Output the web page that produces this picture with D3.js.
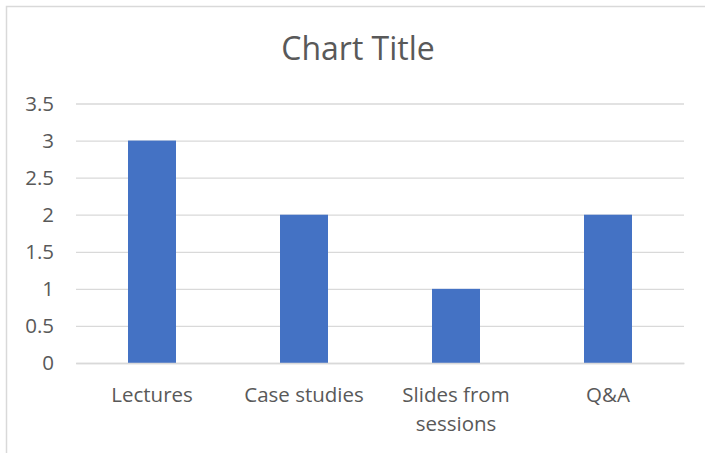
<!DOCTYPE html>
<html><head><meta charset="utf-8">
<script src="https://cdn.jsdelivr.net/npm/d3@7"></script>
<style>
html,body{margin:0;padding:0;background:#fff;}
svg{display:block;}
text{font-family:"Open Sans",sans-serif;fill:#595959;}
</style></head>
<body><svg id="c" width="705" height="453"></svg>
<script>
const categories = ["Lectures", "Case studies", "Slides from sessions", "Q&A"];
const values = [3, 2, 1, 2];
const yTicks = [0, 0.5, 1, 1.5, 2, 2.5, 3, 3.5];
const title = "Chart Title";

const svg = d3.select("#c");
const W = 705, H = 453;
const m = {left: 76, right: 21, top: 103.5, bottom: 90};

// chart border (cropped at right/bottom)
svg.append("path").attr("d", `M6.5,${H+2}V6.5H${W+2}`)
  .attr("fill","none").attr("stroke","#d9d9d9").attr("stroke-width",1.5);

const x = d3.scaleBand().domain(categories).range([m.left, W - m.right]).paddingInner(0).paddingOuter(0);
const y = d3.scaleLinear().domain([0, 3.5]).range([H - m.bottom, m.top]);

// gridlines
const yAxis = d3.axisLeft(y).tickValues(yTicks).tickSize(-(W - m.right - m.left)).tickPadding(22).tickFormat(d3.format("~g"));
const gy = svg.append("g").attr("transform", `translate(${m.left},0)`).call(yAxis);
gy.select(".domain").remove();
gy.selectAll(".tick line").attr("stroke","#d9d9d9").attr("stroke-width",1.3);
gy.selectAll(".tick text").attr("font-size",20.5).attr("fill","#595959").attr("dy","0.33em");

// bars
const bw = 48;
svg.append("g").selectAll("rect").data(values).join("rect")
  .attr("x",(d,i)=> x(categories[i]) + x.bandwidth()/2 - bw/2)
  .attr("width", bw)
  .attr("y", d => y(d))
  .attr("height", d => y(0) - y(d))
  .attr("fill","#4472C4");

// x axis
const xAxis = d3.axisBottom(x).tickSize(0).tickPadding(0);
const gx = svg.append("g").attr("transform", `translate(0,${y(0)})`).call(xAxis);
gx.select(".domain").attr("stroke","#d9d9d9").attr("stroke-width",1.3);
gx.selectAll(".tick text").attr("font-size",20.5).attr("fill","#595959").attr("y",38.5).attr("dy",0)
  .each(function(){
    const t = d3.select(this);
    const words = t.text().split(/\s+/);
    t.text(null);
    let line = [];
    let tspan = t.append("tspan").attr("x",0).attr("dy",0);
    for (const w of words){
      line.push(w);
      tspan.text(line.join(" "));
      if (tspan.node().getComputedTextLength() > 140 && line.length > 1){
        line.pop(); tspan.text(line.join(" "));
        line = [w];
        tspan = t.append("tspan").attr("x",0).attr("dy",29.5).text(w);
      }
    }
  });

// title
svg.append("text").attr("x", 358).attr("y", 60).attr("text-anchor","middle")
  .attr("font-size",32).attr("fill","#595959").text(title);
</script></body></html>
